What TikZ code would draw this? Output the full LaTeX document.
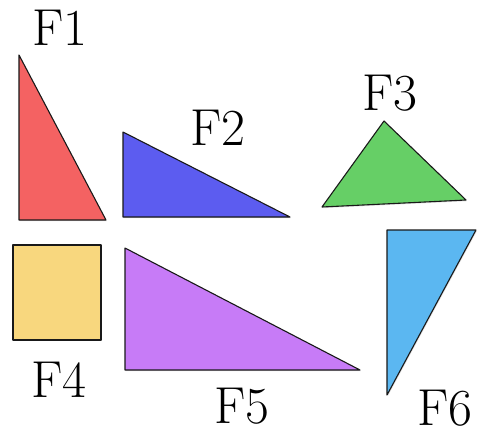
\documentclass[tikz,border=0pt]{standalone}
\usepackage{xcolor}
\usepackage{tikz}
\usetikzlibrary{shadows}

\definecolor{redF}{HTML}{F46262}
\definecolor{blueF}{HTML}{5C5CF0}
\definecolor{greenF}{HTML}{66CF66}
\definecolor{yellowF}{HTML}{F8D77E}
\definecolor{purpleF}{HTML}{C77BF7}
\definecolor{skyF}{HTML}{5BB7F1}

\begin{document}
\begin{tikzpicture}[
  x=1pt, y=-1pt,
  fig/.style={draw=black!90, line width=1.1pt, line join=round,
    drop shadow={shadow xshift=0.8pt, shadow yshift=-1.2pt, opacity=0.25}},
  lbl/.style={font=\fontsize{52}{54}\selectfont, anchor=base, inner sep=0pt}]
  \useasboundingbox (0,0) rectangle (490,434);
  % figures
  \filldraw[fig, fill=redF] (19,55) -- (19,220) -- (106,220) -- cycle;
  \filldraw[fig, fill=blueF] (123,132) -- (123,217) -- (290,217) -- cycle;
  \filldraw[fig, fill=greenF] (322,207) -- (384,121) -- (466,200) -- cycle;
  \filldraw[fig, fill=yellowF] (13,245) rectangle (101,340);
  \filldraw[fig, fill=purpleF] (125,248) -- (125,370) -- (360,370) -- cycle;
  \filldraw[fig, fill=skyF] (387,230) -- (476,230) -- (387,395) -- cycle;
  % labels
  \node[lbl] (f1) at (60,45) {F1};
  \node[lbl] (f2) at (218,145) {F2};
  \node[lbl] (f3) at (390,110) {F3};
  \node[lbl] (f4) at (59,397) {F4};
  \node[lbl] (f5) at (242,423) {F5};
  \node[lbl] (f6) at (445,425) {F6};
\end{tikzpicture}
\end{document}
